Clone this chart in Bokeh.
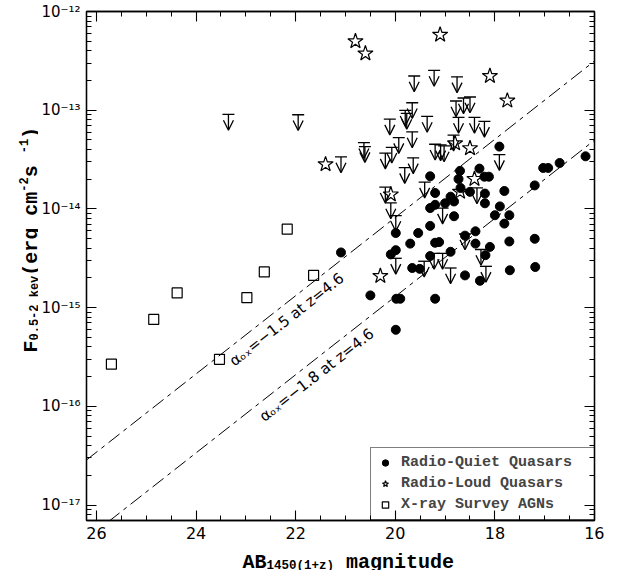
import math
from bokeh.plotting import figure
from bokeh.layouts import row, column
from bokeh.models import (LinearAxis, LogAxis, Range1d, FixedTicker, CustomJSTickFormatter,
                          Arrow, OpenHead, ColumnDataSource, Legend, LegendItem, Label)
from bokeh.embed import file_html
from bokeh.resources import INLINE

# ---------------- data ----------------
# Radio-quiet quasars (detections): AB magnitude, flux 0.5-2 keV (erg cm^-2 s^-1)
rq_mag = [21.09, 20.50, 20.09, 19.99, 19.99, 19.98, 19.90, 19.99, 19.70, 19.66, 19.51, 19.54,
          19.30, 19.30, 19.20, 19.12, 19.20, 19.30, 19.20, 19.20, 19.30, 19.00, 18.82, 18.82,
          18.89, 18.89, 18.70, 18.73, 18.69, 18.60, 18.60, 18.50, 18.39, 18.39, 18.31, 18.21,
          18.12, 18.20, 18.20, 18.10, 18.19, 18.30, 18.00, 17.90, 17.81, 17.81, 17.71, 17.71,
          17.70, 17.03, 16.93, 17.20, 17.20, 16.70, 17.91, 16.18, 17.19]
rq_flux = [3.62e-15, 1.33e-15, 3.46e-15, 3.82e-15, 5.70e-15, 1.23e-15, 1.23e-15, 5.96e-16,
           4.45e-15, 2.52e-15, 2.47e-15, 5.70e-15, 6.73e-15, 3.33e-15, 4.54e-15, 4.61e-15,
           1.23e-15, 1.02e-14, 1.10e-14, 1.45e-14, 2.14e-14, 1.14e-14, 8.43e-15, 1.19e-14,
           1.33e-14, 3.68e-15, 2.43e-14, 2.01e-14, 1.63e-14, 5.36e-15, 2.12e-15, 1.49e-14,
           5.93e-15, 4.45e-15, 2.56e-14, 2.12e-14, 2.12e-14, 1.43e-14, 1.14e-14, 4.12e-15,
           3.40e-15, 1.87e-15, 8.63e-15, 1.06e-14, 1.52e-14, 7.10e-15, 8.63e-15, 4.68e-15,
           2.39e-15, 2.60e-14, 2.60e-14, 1.73e-14, 4.98e-15, 2.92e-14, 4.28e-14, 3.41e-14,
           2.58e-15]

# Radio-quiet quasars (upper limits)
ul_mag = [23.35, 21.95, 21.09, 20.63, 20.61, 20.11, 20.07, 20.20, 19.80, 19.77, 19.66, 19.62,
          19.81, 19.93, 19.66, 19.36, 19.22, 19.64, 19.41, 18.76, 18.78, 18.63, 18.50, 18.73,
          18.41, 18.21, 18.83, 19.20, 19.09, 19.02, 20.09, 19.99, 19.99, 19.42, 19.22, 19.05,
          18.89, 19.05, 18.60, 18.28, 18.18, 17.91, 18.36, 20.20]
ul_flux = [9.06e-14, 8.99e-14, 3.36e-14, 4.69e-14, 4.28e-14, 8.13e-14, 4.21e-14, 1.66e-14,
           9.98e-14, 9.27e-14, 1.19e-13, 2.22e-13, 2.62e-14, 5.28e-14, 6.02e-14, 8.65e-14,
           2.53e-13, 3.29e-14, 1.87e-14, 2.18e-13, 1.24e-13, 1.33e-13, 1.36e-13, 8.45e-14,
           8.45e-14, 7.72e-14, 5.58e-14, 4.52e-14, 4.46e-14, 4.35e-14, 1.15e-14, 8.57e-15,
           3.16e-15, 2.95e-15, 3.54e-15, 3.54e-15, 2.52e-15, 1.02e-14, 5.57e-15, 3.88e-15,
           2.62e-15, 3.55e-14, 1.63e-14, 3.68e-14]

# Radio-loud quasars
rl_mag = [20.80, 20.60, 19.10, 18.10, 17.75, 21.40, 18.80, 18.50, 18.41, 20.09, 20.30, 18.70]
rl_flux = [4.99e-13, 3.75e-13, 5.81e-13, 2.22e-13, 1.25e-13, 2.83e-14, 4.61e-14, 4.12e-14,
           2.01e-14, 1.40e-14, 2.09e-15, 1.49e-14]

# X-ray survey AGNs
xs_mag = [25.70, 24.85, 24.38, 23.53, 22.98, 22.63, 22.17, 21.64]
xs_flux = [2.67e-16, 7.59e-16, 1.41e-15, 2.99e-16, 1.26e-15, 2.30e-15, 6.24e-15, 2.12e-15]

# alpha_ox reference lines at z=4.6 (end points)
line_mag = [26.2, 16.0]
aox15_flux = [2.86e-17, 3.15e-13]
aox18_flux = [4.54e-18, 4.97e-14]
aox15_text = "αₒₓ=−1.5 at z=4.6"
aox18_text = "αₒₓ=−1.8 at z=4.6"
aox15_label_mag = 22.35
aox18_label_mag = 21.75

x_major = [26, 24, 22, 20, 18, 16]
x_minor = [26 - 0.5 * i for i in range(21)]
y_major = [1e-17, 1e-16, 1e-15, 1e-14, 1e-13, 1e-12]
y_minor = [m * 10.0 ** e for e in range(-18, -12) for m in range(2, 10)]

legend_labels = ["Radio-Quiet Quasars", "Radio-Loud Quasars", "X-ray Survey AGNs"]
x_title = ["AB", "1450(1+z)", "magnitude"]
y_title = ["F", "0.5-2 kev", "(erg cm", "-2", " s", "-1", ")"]

# ---------------- style ----------------
ARROW_DEX = 0.16
TICK_FONT = "DejaVu Sans"
TITLE_FONT = "Liberation Mono"
BIG, SMALL = 20, 12

# whole page content must fit 602 x 570 (618 x 586 window minus 8px margins)
YFIG_W = 38
P_LEFT, P_TOP, P_BOTTOM, P_RIGHT = 46, 11, 25, 10
FW, FH = 508, 509
XF_H = 25

p = figure(frame_width=FW, frame_height=FH, min_border_left=P_LEFT, min_border_right=P_RIGHT,
           min_border_top=P_TOP, min_border_bottom=P_BOTTOM,
           x_range=Range1d(26.2, 16.0), y_range=Range1d(6.97e-18, 1e-12),
           y_axis_type="log", output_backend="svg", toolbar_location=None,
           x_axis_location=None, y_axis_location=None)
p.background_fill_color = "white"
p.border_fill_color = "white"
p.outline_line_color = "black"
p.outline_line_width = 1.3
p.xgrid.visible = False
p.ygrid.visible = False

ylab_code = """
const e = Math.round(Math.log10(tick));
const sup = {'-':'\u207b','0':'\u2070','1':'\u00b9','2':'\u00b2','3':'\u00b3','4':'\u2074',
             '5':'\u2075','6':'\u2076','7':'\u2077','8':'\u2078','9':'\u2079'};
return '10' + String(e).split('').map(c => sup[c]).join('');
"""
blank = CustomJSTickFormatter(code="return '';")

def style_axis(ax, labels=True, size="16px"):
    ax.major_tick_in = 10
    ax.major_tick_out = 0
    ax.minor_tick_in = 5
    ax.minor_tick_out = 0
    ax.axis_line_color = "black"
    ax.axis_line_width = 1.3
    ax.major_tick_line_width = 1.1
    ax.minor_tick_line_width = 1.0
    if labels:
        ax.major_label_text_font = TICK_FONT
        ax.major_label_text_font_size = size
        ax.major_label_text_color = "black"
    else:
        ax.major_label_text_font_size = "0px"
        ax.major_label_standoff = 0

xb = LinearAxis(ticker=FixedTicker(ticks=x_major, minor_ticks=x_minor))
style_axis(xb)
xb.major_label_standoff = 6
p.add_layout(xb, "below")
xt = LinearAxis(ticker=FixedTicker(ticks=x_major, minor_ticks=x_minor), formatter=blank)
style_axis(xt, labels=False)
p.add_layout(xt, "above")
yl = LogAxis(ticker=FixedTicker(ticks=y_major, minor_ticks=y_minor),
             formatter=CustomJSTickFormatter(code=ylab_code))
style_axis(yl, size="15px")
yl.major_label_standoff = 6
p.add_layout(yl, "left")
yr = LogAxis(ticker=FixedTicker(ticks=y_major, minor_ticks=y_minor), formatter=blank)
style_axis(yr, labels=False)
p.add_layout(yr, "right")

# reference lines
p.line(line_mag, aox15_flux, line_color="black", line_width=1, line_dash="14 5 4 5")
p.line(line_mag, aox18_flux, line_color="black", line_width=1, line_dash="14 5 4 5")

def on_line(fl, m):
    lf0, lf1 = math.log10(fl[0]), math.log10(fl[1])
    t = (m - line_mag[0]) / (line_mag[1] - line_mag[0])
    return 10 ** (lf0 + t * (lf1 - lf0))

ang = math.atan(0.396 * (FH / 5.157) / (FW / 10.2))
for txt, fl, m in [(aox15_text, aox15_flux, aox15_label_mag), (aox18_text, aox18_flux, aox18_label_mag)]:
    p.add_layout(Label(x=m, y=on_line(fl, m), text=txt, angle=ang, text_align="center",
                       text_baseline="top", text_font=TICK_FONT, text_font_size="15px",
                       text_color="black", x_offset=3, y_offset=-3))

# upper limits
ul_src = ColumnDataSource(dict(x=ul_mag, y=ul_flux,
                               ye=[f / 10 ** ARROW_DEX for f in ul_flux]))
p.add_layout(Arrow(x_start="x", y_start="y", x_end="x", y_end="ye", source=ul_src,
                   line_color="black", line_width=1.3,
                   end=OpenHead(size=10, line_color="black", line_width=1.3)))
p.scatter("x", "y", source=ul_src, marker="dash", size=12, line_color="black", line_width=1.3)

r_rq = p.scatter(rq_mag, rq_flux, marker="circle", size=9, fill_color="black", line_color="black")
r_rl = p.scatter(rl_mag, rl_flux, marker="star", size=16, fill_color="white", fill_alpha=0.0,
                 line_color="black", line_width=1.2)
r_xs = p.scatter(xs_mag, xs_flux, marker="square", size=10, fill_color="white", fill_alpha=0.0,
                 line_color="black", line_width=1.2)

legend = Legend(items=[LegendItem(label=legend_labels[0], renderers=[r_rq]),
                       LegendItem(label=legend_labels[1], renderers=[r_rl]),
                       LegendItem(label=legend_labels[2], renderers=[r_xs])],
                location=(284, 0), orientation="vertical")
legend.label_text_font = TITLE_FONT
legend.label_text_font_style = "bold"
legend.label_text_font_size = "15px"
legend.label_standoff = 8
legend.glyph_width = 16
legend.glyph_height = 17
legend.label_height = 17
legend.label_width = 188
legend.spacing = 4
legend.padding = 6
legend.margin = 0
legend.border_line_color = "black"
legend.border_line_width = 1.3
legend.background_fill_alpha = 0.0
p.add_layout(legend, "center")

# ---------- title panels (separate canvases so the titles are not clipped) ----------
def blank_fig(w, h):
    f = figure(width=w, height=h, min_border=0, output_backend="svg", toolbar_location=None,
               x_axis_location=None, y_axis_location=None,
               x_range=Range1d(0, 1), y_range=Range1d(0, 1))
    f.outline_line_color = None
    f.xgrid.visible = False
    f.ygrid.visible = False
    f.background_fill_color = "white"
    f.border_fill_color = "white"
    return f

def lab(f, text, x, y, size, angle=0.0):
    f.add_layout(Label(x=x, y=y, x_units="screen", y_units="screen", text=text, angle=angle,
                       text_font=TITLE_FONT, text_font_style="bold", text_font_size=f"{size}px",
                       text_color="black", text_align="left", text_baseline="alphabetic"))

P_H = P_TOP + FH + P_BOTTOM          # 545
yfig = blank_fig(YFIG_W, P_H)
A = math.pi / 2
yy = P_H - 377                        # bottom of the "F"
offs = [31, 34, 31, 23, 31, 23, 31]   # baseline x of each piece
sizes = [BIG, SMALL, BIG, SMALL, BIG, SMALL, BIG]
for t, bx, s in zip(y_title, offs, sizes):
    lab(yfig, t, bx, yy, s, angle=A)
    yy += len(t) * 0.6 * s

xfig = blank_fig(YFIG_W + P_LEFT + FW + P_RIGHT, XF_H)
SUB = 12.5
x0 = 242
lab(xfig, x_title[0], x0, 8, BIG)
x1 = x0 + 2 * 0.6 * BIG
lab(xfig, x_title[1], x1, 5, SUB)
x2 = x1 + 9 * 0.6 * SUB + 0.6 * BIG
lab(xfig, x_title[2], x2, 8, BIG)

layout = column(row(yfig, p, spacing=0), xfig, spacing=0)
open("out.html", "w").write(file_html(layout, INLINE))
